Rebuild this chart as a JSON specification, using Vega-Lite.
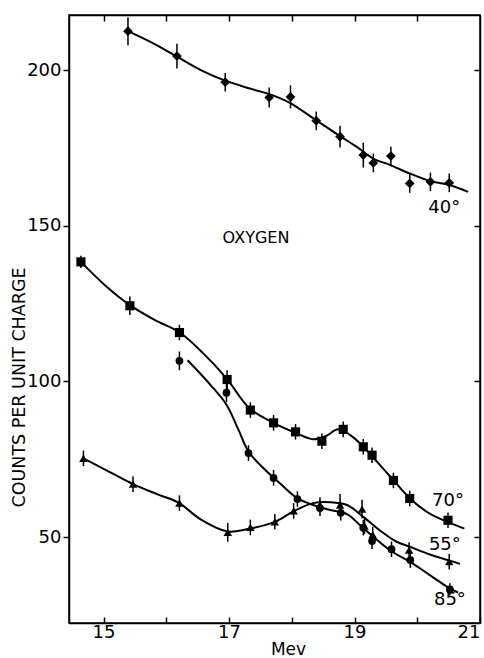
{
  "$schema": "https://vega.github.io/schema/vega-lite/v6.json",
  "width": 411,
  "height": 608,
  "autosize": {"type": "none"},
  "padding": {"left": 69, "top": 15, "right": 4, "bottom": 35},
  "background": "white",
  "config": {
    "view": {"stroke": "black", "strokeWidth": 1.5},
    "font": "DejaVu Sans",
    "axis": {"domainColor": "black", "domainWidth": 1.5, "tickColor": "black", "tickWidth": 1.5, "labelColor": "black", "titleColor": "black", "grid": false, "labelFont": "DejaVu Sans", "titleFont": "DejaVu Sans", "titleFontWeight": "normal"}
  },
  "datasets": {
    "points": [
      {"series": "40°", "mev": 15.39, "counts": 212.5, "err": 4.5},
      {"series": "40°", "mev": 16.17, "counts": 204.5, "err": 4},
      {"series": "40°", "mev": 16.94, "counts": 196.1, "err": 3},
      {"series": "40°", "mev": 17.64, "counts": 191.2, "err": 3.2},
      {"series": "40°", "mev": 17.98, "counts": 191.4, "err": 3.7},
      {"series": "40°", "mev": 18.39, "counts": 183.7, "err": 3},
      {"series": "40°", "mev": 18.77, "counts": 178.6, "err": 3.5},
      {"series": "40°", "mev": 19.14, "counts": 172.7, "err": 4},
      {"series": "40°", "mev": 19.30, "counts": 170.2, "err": 3},
      {"series": "40°", "mev": 19.58, "counts": 172.4, "err": 3},
      {"series": "40°", "mev": 19.88, "counts": 163.6, "err": 3},
      {"series": "40°", "mev": 20.21, "counts": 164.1, "err": 3},
      {"series": "40°", "mev": 20.51, "counts": 163.8, "err": 3},
      {"series": "70°", "mev": 14.64, "counts": 138.4, "err": 2},
      {"series": "70°", "mev": 15.42, "counts": 124.3, "err": 3},
      {"series": "70°", "mev": 16.21, "counts": 115.7, "err": 2.5},
      {"series": "70°", "mev": 16.97, "counts": 100.6, "err": 3},
      {"series": "70°", "mev": 17.34, "counts": 90.8, "err": 2.5},
      {"series": "70°", "mev": 17.71, "counts": 86.7, "err": 2.5},
      {"series": "70°", "mev": 18.06, "counts": 83.8, "err": 2.5},
      {"series": "70°", "mev": 18.48, "counts": 80.8, "err": 2.5},
      {"series": "70°", "mev": 18.82, "counts": 84.6, "err": 2.5},
      {"series": "70°", "mev": 19.14, "counts": 79.0, "err": 2.5},
      {"series": "70°", "mev": 19.28, "counts": 76.3, "err": 2.5},
      {"series": "70°", "mev": 19.62, "counts": 68.2, "err": 2.5},
      {"series": "70°", "mev": 19.88, "counts": 62.4, "err": 2.5},
      {"series": "70°", "mev": 20.49, "counts": 55.4, "err": 2.5},
      {"series": "55°", "mev": 14.68, "counts": 75.3, "err": 2.5},
      {"series": "55°", "mev": 15.47, "counts": 67.0, "err": 2.5},
      {"series": "55°", "mev": 16.21, "counts": 60.9, "err": 2.5},
      {"series": "55°", "mev": 16.98, "counts": 51.5, "err": 3},
      {"series": "55°", "mev": 17.34, "counts": 53.1, "err": 2.5},
      {"series": "55°", "mev": 17.73, "counts": 54.9, "err": 2.5},
      {"series": "55°", "mev": 18.03, "counts": 58.4, "err": 2.5},
      {"series": "55°", "mev": 18.45, "counts": 60.3, "err": 2.5},
      {"series": "55°", "mev": 18.77, "counts": 60.3, "err": 3.5},
      {"series": "55°", "mev": 19.12, "counts": 59.0, "err": 3},
      {"series": "55°", "mev": 19.16, "counts": 53.5, "err": 2.5},
      {"series": "55°", "mev": 19.29, "counts": 50.8, "err": 2.5},
      {"series": "55°", "mev": 19.87, "counts": 45.8, "err": 2.5},
      {"series": "55°", "mev": 20.51, "counts": 42.1, "err": 2.5},
      {"series": "85°", "mev": 16.21, "counts": 106.6, "err": 3},
      {"series": "85°", "mev": 16.96, "counts": 96.4, "err": 3},
      {"series": "85°", "mev": 17.31, "counts": 77.0, "err": 2.5},
      {"series": "85°", "mev": 17.71, "counts": 69.0, "err": 2.5},
      {"series": "85°", "mev": 18.09, "counts": 62.2, "err": 2.5},
      {"series": "85°", "mev": 18.45, "counts": 59.3, "err": 2.5},
      {"series": "85°", "mev": 18.78, "counts": 57.8, "err": 2.5},
      {"series": "85°", "mev": 19.14, "counts": 53.0, "err": 2.5},
      {"series": "85°", "mev": 19.28, "counts": 48.7, "err": 2.5},
      {"series": "85°", "mev": 19.59, "counts": 46.1, "err": 2.5},
      {"series": "85°", "mev": 19.89, "counts": 42.6, "err": 2.5},
      {"series": "85°", "mev": 20.52, "counts": 33.2, "err": 2}
    ],
    "curves": [
      {"series": "40°", "mev": 15.39, "counts": 212.5},
      {"series": "40°", "mev": 15.8, "counts": 208.5},
      {"series": "40°", "mev": 16.17, "counts": 204.3},
      {"series": "40°", "mev": 16.55, "counts": 200.0},
      {"series": "40°", "mev": 16.94, "counts": 196.6},
      {"series": "40°", "mev": 17.33, "counts": 194.1},
      {"series": "40°", "mev": 17.71, "counts": 191.8},
      {"series": "40°", "mev": 17.97, "counts": 189.5},
      {"series": "40°", "mev": 18.39, "counts": 183.9},
      {"series": "40°", "mev": 18.77, "counts": 178.8},
      {"series": "40°", "mev": 19.03, "counts": 175.4},
      {"series": "40°", "mev": 19.3, "counts": 171.6},
      {"series": "40°", "mev": 19.57, "counts": 169.5},
      {"series": "40°", "mev": 19.88, "counts": 166.8},
      {"series": "40°", "mev": 20.2, "counts": 164.4},
      {"series": "40°", "mev": 20.51, "counts": 163.1},
      {"series": "40°", "mev": 20.81, "counts": 160.9},
      {"series": "70°", "mev": 14.64, "counts": 138.4},
      {"series": "70°", "mev": 15.05, "counts": 130.4},
      {"series": "70°", "mev": 15.42, "counts": 124.5},
      {"series": "70°", "mev": 15.82, "counts": 119.7},
      {"series": "70°", "mev": 16.21, "counts": 115.8},
      {"series": "70°", "mev": 16.59, "counts": 109.0},
      {"series": "70°", "mev": 16.96, "counts": 101.0},
      {"series": "70°", "mev": 17.32, "counts": 91.5},
      {"series": "70°", "mev": 17.7, "counts": 86.8},
      {"series": "70°", "mev": 18.05, "counts": 83.6},
      {"series": "70°", "mev": 18.34, "counts": 81.4},
      {"series": "70°", "mev": 18.55, "counts": 82.5},
      {"series": "70°", "mev": 18.74, "counts": 84.6},
      {"series": "70°", "mev": 18.95, "counts": 82.5},
      {"series": "70°", "mev": 19.14, "counts": 79.0},
      {"series": "70°", "mev": 19.3, "counts": 75.5},
      {"series": "70°", "mev": 19.61, "counts": 68.5},
      {"series": "70°", "mev": 19.88, "counts": 62.5},
      {"series": "70°", "mev": 20.2, "counts": 57.5},
      {"series": "70°", "mev": 20.49, "counts": 54.8},
      {"series": "70°", "mev": 20.75, "counts": 52.7},
      {"series": "55°", "mev": 14.68, "counts": 75.3},
      {"series": "55°", "mev": 15.07, "counts": 71.2},
      {"series": "55°", "mev": 15.47, "counts": 67.0},
      {"series": "55°", "mev": 15.85, "counts": 63.8},
      {"series": "55°", "mev": 16.2, "counts": 61.0},
      {"series": "55°", "mev": 16.54, "counts": 55.8},
      {"series": "55°", "mev": 16.98, "counts": 51.8},
      {"series": "55°", "mev": 17.28, "counts": 52.5},
      {"series": "55°", "mev": 17.73, "counts": 54.9},
      {"series": "55°", "mev": 18.02, "counts": 58.2},
      {"series": "55°", "mev": 18.34, "counts": 60.9},
      {"series": "55°", "mev": 18.61, "counts": 61.2},
      {"series": "55°", "mev": 18.88, "counts": 60.3},
      {"series": "55°", "mev": 19.14, "counts": 56.5},
      {"series": "55°", "mev": 19.4, "counts": 52.2},
      {"series": "55°", "mev": 19.67, "counts": 48.5},
      {"series": "55°", "mev": 19.88, "counts": 46.9},
      {"series": "55°", "mev": 20.2, "counts": 44.4},
      {"series": "55°", "mev": 20.51, "counts": 42.5},
      {"series": "55°", "mev": 20.68, "counts": 41.4},
      {"series": "85°", "mev": 16.34, "counts": 106.8},
      {"series": "85°", "mev": 16.7, "counts": 99.0},
      {"series": "85°", "mev": 16.96, "counts": 92.5},
      {"series": "85°", "mev": 17.15, "counts": 84.5},
      {"series": "85°", "mev": 17.31, "counts": 77.5},
      {"series": "85°", "mev": 17.55, "counts": 72.1},
      {"series": "85°", "mev": 17.81, "counts": 67.3},
      {"series": "85°", "mev": 18.08, "counts": 62.6},
      {"series": "85°", "mev": 18.34, "counts": 60.3},
      {"series": "85°", "mev": 18.61, "counts": 58.7},
      {"series": "85°", "mev": 18.88, "counts": 57.4},
      {"series": "85°", "mev": 19.09, "counts": 53.8},
      {"series": "85°", "mev": 19.3, "counts": 50.1},
      {"series": "85°", "mev": 19.57, "counts": 45.7},
      {"series": "85°", "mev": 19.88, "counts": 42.1},
      {"series": "85°", "mev": 20.2, "counts": 37.8},
      {"series": "85°", "mev": 20.52, "counts": 33.5},
      {"series": "85°", "mev": 20.65, "counts": 32.2}
    ],
    "names": [
      {"label": "OXYGEN", "mev": 17.43, "counts": 146}
    ],
    "angles": [
      {"label": "40°", "mev": 20.43, "counts": 155.7},
      {"label": "70°", "mev": 20.49, "counts": 61.6},
      {"label": "55°", "mev": 20.44, "counts": 47.4},
      {"label": "85°", "mev": 20.52, "counts": 29.8}
    ]
  },
  "resolve": {"axis": {"x": "independent", "y": "independent"}},
  "layer": [
    {
      "data": {"name": "curves"},
      "mark": {"type": "line", "interpolate": "catmull-rom", "color": "black", "strokeWidth": 2},
      "encoding": {
        "x": {"field": "mev", "type": "quantitative", "scale": {"domain": [14.45, 21], "nice": false, "zero": false},
          "axis": {"orient": "bottom", "values": [15, 16, 17, 18, 19, 20, 21], "tickSize": -6, "labelExpr": "datum.value % 2 == 1 ? datum.label : ''", "labelFontSize": 18, "labelPadding": 6, "labelFlush": true,
            "title": "Mev", "titleFontSize": 17, "titleX": 219, "titleY": 31, "titleBaseline": "alphabetic"}},
        "y": {"field": "counts", "type": "quantitative", "scale": {"domain": [22.4, 217.7], "nice": false, "zero": false},
          "axis": {"orient": "left", "values": [50, 100, 150, 200], "tickSize": 6, "labelFontSize": 18, "labelPadding": 2,
            "title": "COUNTS PER UNIT CHARGE", "titleFontSize": 17.5, "titleAngle": 270, "titleX": -50, "titleY": 372, "titleBaseline": "middle", "titleAlign": "center"}},
        "detail": {"field": "series", "type": "nominal"}
      }
    },
    {
      "data": {"name": "points"},
      "mark": {"type": "errorbar", "color": "black", "thickness": 1.5},
      "encoding": {
        "x": {"field": "mev", "type": "quantitative", "axis": null},
        "y": {"field": "counts", "type": "quantitative", "axis": null},
        "yError": {"field": "err"},
        "detail": {"field": "series", "type": "nominal"}
      }
    },
    {
      "data": {"name": "points"},
      "mark": {"type": "point", "filled": true, "color": "black", "opacity": 1},
      "encoding": {
        "x": {"field": "mev", "type": "quantitative", "axis": {"orient": "top", "values": [15, 16, 17, 18, 19, 20], "tickSize": -6, "labels": false, "title": null}},
        "y": {"field": "counts", "type": "quantitative", "axis": {"orient": "right", "values": [50, 100, 150, 200], "tickSize": -6, "labels": false, "title": null}},
        "shape": {"field": "series", "type": "nominal", "scale": {"domain": ["40°", "70°", "55°", "85°"], "range": ["diamond", "square", "triangle-up", "circle"]}, "legend": null},
        "size": {"field": "series", "type": "nominal", "scale": {"domain": ["40°", "70°", "55°", "85°"], "range": [95, 60, 170, 55]}, "legend": null}
      }
    },
    {
      "data": {"name": "names"},
      "mark": {"type": "text", "color": "black", "font": "DejaVu Sans", "fontSize": 16, "align": "center", "baseline": "middle"},
      "encoding": {
        "x": {"field": "mev", "type": "quantitative", "axis": null},
        "y": {"field": "counts", "type": "quantitative", "axis": null},
        "text": {"field": "label", "type": "nominal"}
      }
    },
    {
      "data": {"name": "angles"},
      "mark": {"type": "text", "color": "black", "font": "DejaVu Sans", "fontSize": 18, "align": "center", "baseline": "middle"},
      "encoding": {
        "x": {"field": "mev", "type": "quantitative", "axis": null},
        "y": {"field": "counts", "type": "quantitative", "axis": null},
        "text": {"field": "label", "type": "nominal"}
      }
    }
  ]
}
